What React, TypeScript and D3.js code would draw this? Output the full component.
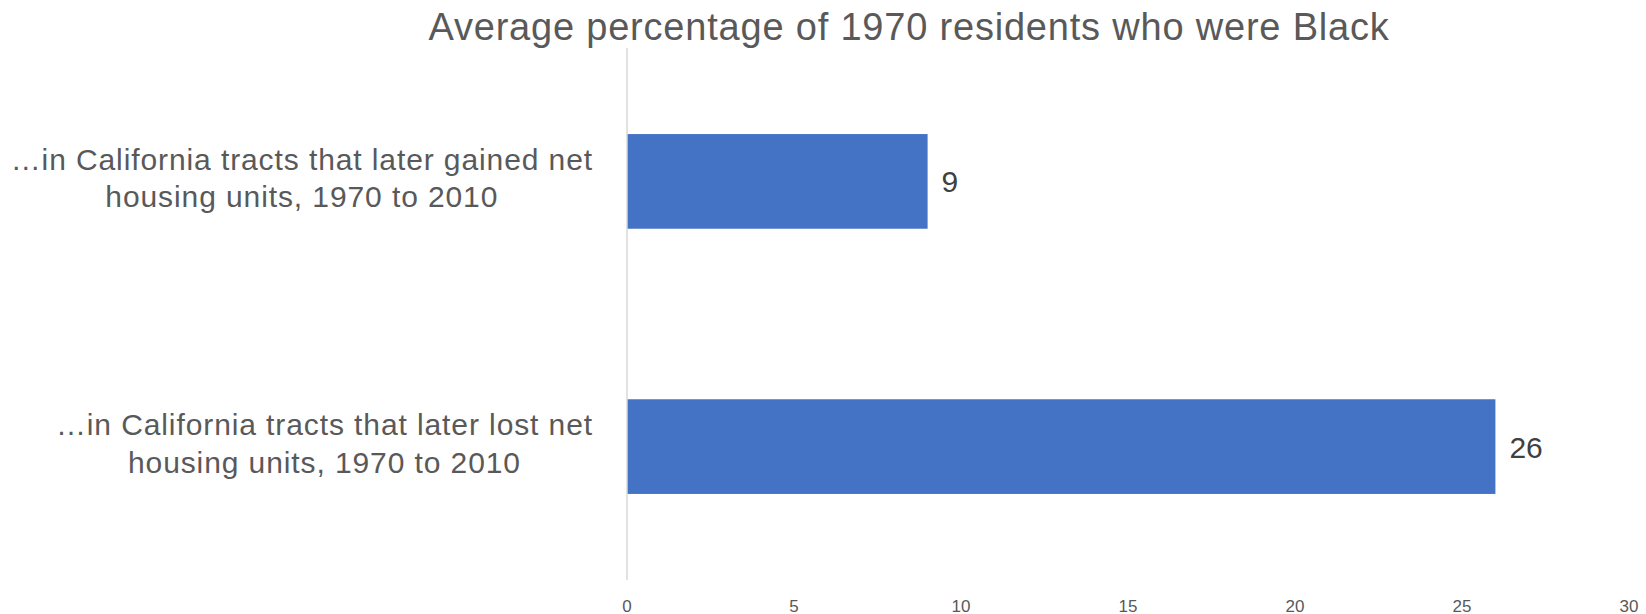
import { useEffect, useRef } from 'react';
import * as d3 from 'd3';

const title = 'Average percentage of 1970 residents who were Black';
const categories = [
  ['…in California tracts that later gained net', 'housing units, 1970 to 2010'],
  ['…in California tracts that later lost net', 'housing units, 1970 to 2010'],
];
const values = [9, 26];
const xTicks = [0, 5, 10, 15, 20, 25, 30];

export default function App() {
  const svgRef = useRef<SVGSVGElement>(null);
  const width = 1646;
  const height = 614;

  useEffect(() => {
    if (!svgRef.current) return;
    const svg = d3.select(svgRef.current);
    svg.selectAll('*').remove();

    const font = "'Liberation Sans', Arial, sans-serif";
    const x = d3.scaleLinear().domain([0, 30]).range([627, 1629]);
    const y = d3.scaleBand<number>()
      .domain(d3.range(categories.length))
      .range([48, 580])
      .paddingInner(0.643)
      .paddingOuter(0.3245);

    // title
    svg.append('text')
      .attr('x', 909)
      .attr('y', 39.5)
      .attr('text-anchor', 'middle')
      .attr('font-family', font)
      .attr('font-size', 38)
      .attr('letter-spacing', 0.8)
      .attr('fill', '#595959')
      .text(title);

    // bars
    svg.append('g')
      .selectAll('rect')
      .data(values)
      .join('rect')
      .attr('x', x(0))
      .attr('y', (_, i) => y(i)!)
      .attr('width', d => x(d) - x(0))
      .attr('height', y.bandwidth())
      .attr('fill', '#4472c4');

    // vertical axis line
    svg.append('line')
      .attr('x1', x(0)).attr('x2', x(0))
      .attr('y1', 48).attr('y2', 580)
      .attr('stroke', '#d9d9d9')
      .attr('stroke-width', 1.5);

    // value labels
    svg.append('g')
      .selectAll('text')
      .data(values)
      .join('text')
      .attr('x', d => x(d) + 14)
      .attr('y', (_, i) => y(i)! + y.bandwidth() / 2 + 11)
      .attr('font-family', font)
      .attr('font-size', 30)
      .attr('fill', '#404040')
      .text(d => d);

    // x tick labels
    svg.append('g')
      .selectAll('text')
      .data(xTicks)
      .join('text')
      .attr('x', d => x(d))
      .attr('y', 611.5)
      .attr('text-anchor', 'middle')
      .attr('font-family', font)
      .attr('font-size', 17)
      .attr('fill', '#595959')
      .text(d => d);

    // category labels: block right-aligned, lines centred inside
    const right = 593;
    categories.forEach((lines, i) => {
      const g = svg.append('g');
      const cy = y(i)! + y.bandwidth() / 2;
      const texts = g.selectAll('text')
        .data(lines)
        .join('text')
        .attr('y', (_, j) => cy - 11.5 + j * 37.5)
        .attr('text-anchor', 'middle')
        .attr('font-family', font)
        .attr('font-size', 30)
        .attr('letter-spacing', 0.9)
        .attr('fill', '#595959')
        .text(d => d);
      let maxW = 0;
      texts.each(function () {
        maxW = Math.max(maxW, (this as SVGTextElement).getComputedTextLength());
      });
      texts.attr('x', right - maxW / 2);
    });
  }, []);

  return (
    <svg
      ref={svgRef}
      width={width}
      height={height}
      style={{ position: 'absolute', left: 0, top: 0, background: '#fff' }}
    />
  );
}
